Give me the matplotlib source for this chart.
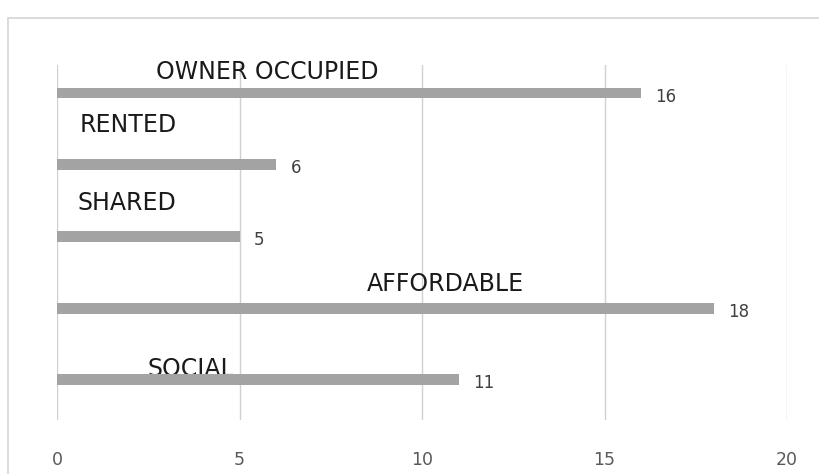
import matplotlib.pyplot as plt
from matplotlib.patches import Rectangle

# data
categories = ["OWNER OCCUPIED", "RENTED", "SHARED", "AFFORDABLE", "SOCIAL"]
values = [16, 6, 5, 18, 11]
x_ticks = [0, 5, 10, 15, 20]

# label placement (x centre in data units, y offset from bar)
label_x = [5.76, 1.94, 1.91, 10.64, 3.68]
label_dy = [-0.29, -0.55, -0.47, -0.33, -0.15]

plt.rcParams["font.family"] = ["Liberation Sans Narrow", "DejaVu Sans"]

fig = plt.figure(figsize=(8.19, 4.74), dpi=100)
fig.patch.set_facecolor("white")

# chart frame
fig.patches.append(Rectangle((8 / 819, -0.05), 1.0, 1 - 18 / 474 + 0.05,
                             transform=fig.transFigure, fill=False,
                             edgecolor="#d4d4d4", linewidth=1.2))

ax = fig.add_axes([57 / 819, 1 - 420 / 474, (787 - 57) / 819, (420 - 65) / 474])

ypos = list(range(len(categories)))
ax.barh(ypos, values, height=0.15, color="#a3a3a3", zorder=3)

for y, v in zip(ypos, values):
    ax.text(v + 0.4, y + 0.05, str(v), va="center", ha="left",
            fontsize=12, color="#404040", zorder=4)

for y, name, lx, dy in zip(ypos, categories, label_x, label_dy):
    ax.text(lx, y + dy, name, ha="center", va="center",
            fontsize=17, color="#1a1a1a", zorder=2)

ax.set_xlim(0, 20)
ax.set_ylim(4.56, -0.39)
ax.set_xticks(x_ticks)
ax.set_yticks([])
ax.grid(axis="x", color="#d0d0d0", linewidth=1, zorder=0)
for s in ax.spines.values():
    s.set_visible(False)
ax.tick_params(axis="x", length=0, pad=22, labelsize=12.5, labelcolor="#595959")

fig.savefig("out.png", dpi=100)
